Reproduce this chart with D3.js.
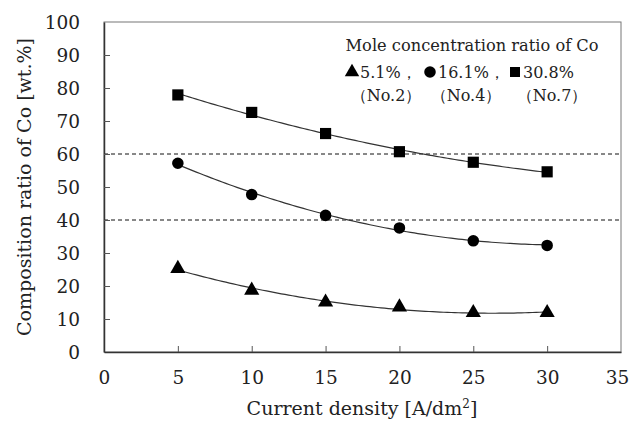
<!DOCTYPE html>
<html lang="en">
<meta charset="utf-8">
<style>
  body { margin: 0; background: #fff; }
  text { font-family: "DejaVu Serif", "Liberation Serif", serif; fill: #222; }
</style>
<body>
<div id="chart"></div>

<script src="https://d3js.org/d3.v7.min.js"></script>
<script>

// data
var currentDensity = [5, 10, 15, 20, 25, 30];
var co51  = [25.3, 18.7, 15.1, 13.6, 11.9, 11.9];   // triangle, No.2
var co161 = [57.2, 47.7, 41.4, 37.6, 33.7, 32.3];   // circle, No.4
var co308 = [77.9, 72.6, 66.2, 60.7, 57.5, 54.6];   // square, No.7
var xTicks = [0, 5, 10, 15, 20, 25, 30, 35];
var yTicks = [0, 10, 20, 30, 40, 50, 60, 70, 80, 90, 100];
var refLines = [40, 60];

var W = 629, H = 424;
var margin = {top: 22, right: 8, bottom: 72, left: 104};
var width = W - margin.left - margin.right,
    height = H - margin.top - margin.bottom;

var svg = d3.select("#chart").append("svg")
  .attr("width", W).attr("height", H);
var g = svg.append("g")
  .attr("transform", "translate(" + margin.left + "," + margin.top + ")");

var x = d3.scaleLinear().domain([0, 35]).range([0, width]);
var y = d3.scaleLinear().domain([0, 100]).range([height, 0]);

// frame (top/right)
g.append("rect")
  .attr("width", width).attr("height", height)
  .attr("fill", "none").attr("stroke", "#777").attr("stroke-width", 1);

// dashed reference lines
g.selectAll(".ref").data(refLines).enter().append("line")
  .attr("x1", 0).attr("x2", width)
  .attr("y1", function(d) { return y(d); }).attr("y2", function(d) { return y(d); })
  .attr("stroke", "#111").attr("stroke-width", 1).attr("stroke-dasharray", "4,3");

// axes, ticks pointing inside
var xAxis = g.append("g").attr("transform", "translate(0," + height + ")")
  .call(d3.axisBottom(x).tickValues(xTicks).tickSizeInner(-6).tickSizeOuter(0).tickPadding(19));
var yAxis = g.append("g")
  .call(d3.axisLeft(y).tickValues(yTicks).tickSizeInner(-6).tickSizeOuter(0).tickPadding(24));
[xAxis, yAxis].forEach(function(a) {
  a.select(".domain").attr("stroke", "#333").attr("stroke-width", 1.5);
  a.selectAll(".tick line").attr("stroke", "#555");
  a.selectAll(".tick text").style("font-size", "18.5px").attr("fill", "#222")
    .style("font-family", "'DejaVu Serif', serif");
});
xAxis.selectAll(".tick").filter(function(d) { return d === 0 || d === 35; }).select("line").remove();
yAxis.selectAll(".tick").filter(function(d) { return d === 0 || d === 100; }).select("line").remove();
yAxis.selectAll(".tick text").attr("dy", "0.36em");
// keep the last x label inside the page
xAxis.selectAll(".tick").filter(function(d) { return d === 35; }).select("text").attr("dx", "-4");

// quadratic least-squares trend for each series
function quadFit(xs, ys) {
  var n = xs.length, s = [0, 0, 0, 0, 0], t = [0, 0, 0];
  for (var i = 0; i < n; i++) {
    var p = 1;
    for (var k = 0; k < 5; k++) { s[k] += p; if (k < 3) t[k] += p * ys[i]; p *= xs[i]; }
  }
  var A = [[s[0], s[1], s[2], t[0]], [s[1], s[2], s[3], t[1]], [s[2], s[3], s[4], t[2]]];
  for (var c = 0; c < 3; c++) {
    for (var r = c + 1; r < 3; r++) {
      var f = A[r][c] / A[c][c];
      for (var j = c; j < 4; j++) A[r][j] -= f * A[c][j];
    }
  }
  var b = [0, 0, 0];
  for (var r2 = 2; r2 >= 0; r2--) {
    var v = A[r2][3];
    for (var j2 = r2 + 1; j2 < 3; j2++) v -= A[r2][j2] * b[j2];
    b[r2] = v / A[r2][r2];
  }
  return function(v) { return b[0] + b[1] * v + b[2] * v * v; };
}

var series = [
  {vals: co51, shape: d3.symbolTriangle, size: 100},
  {vals: co161, shape: d3.symbolCircle, size: 105},
  {vals: co308, shape: d3.symbolSquare, size: 125}
];

var line = d3.line().x(function(d) { return x(d[0]); }).y(function(d) { return y(d[1]); });

series.forEach(function(s) {
  var f = quadFit(currentDensity, s.vals);
  var pts = d3.range(5, 30.01, 0.25).map(function(v) { return [v, f(v)]; });
  g.append("path").datum(pts).attr("d", line)
    .attr("fill", "none").attr("stroke", "#333").attr("stroke-width", 1.2);
  g.selectAll(null).data(currentDensity).enter().append("path")
    .attr("d", d3.symbol().type(s.shape).size(s.size))
    .attr("transform", function(d, i) { return "translate(" + x(d) + "," + y(s.vals[i]) + ")"; })
    .attr("fill", "#000");
});

// legend
var lg = svg.append("g");
lg.append("text").attr("x", 472).attr("y", 51).attr("text-anchor", "middle")
  .style("font-size", "16px").attr("textLength", 253).attr("lengthAdjust", "spacingAndGlyphs")
  .text("Mole concentration ratio of Co");
var legendItems = [
  {shape: d3.symbolTriangle, size: 90, mx: 352, label: "5.1%，", sub: "（No.2）", sx: 386},
  {shape: d3.symbolCircle, size: 105, mx: 430, label: "16.1%，", sub: "（No.4）", sx: 466},
  {shape: d3.symbolSquare, size: 100, mx: 515, label: "30.8%", sub: "（No.7）", sx: 552}
];
legendItems.forEach(function(it) {
  lg.append("path").attr("d", d3.symbol().type(it.shape).size(it.size))
    .attr("transform", "translate(" + it.mx + ",72)").attr("fill", "#000");
  lg.append("text").attr("x", it.mx + 8).attr("y", 78).style("font-size", "16px").text(it.label);
  lg.append("text").attr("x", it.sx).attr("y", 101).attr("text-anchor", "middle")
    .style("font-size", "16px").text(it.sub);
});

// axis titles
svg.append("text").attr("x", 362).attr("y", 415).attr("text-anchor", "middle")
  .style("font-size", "19px").html("Current density [A/dm<tspan baseline-shift='super' font-size='12px'>2</tspan>]");
svg.append("text").attr("transform", "translate(31,187) rotate(-90)").attr("text-anchor", "middle")
  .style("font-size", "18px").attr("textLength", 298).attr("lengthAdjust", "spacingAndGlyphs")
  .text("Composition ratio of Co [wt.%]");

</script>
</body>
</html>
